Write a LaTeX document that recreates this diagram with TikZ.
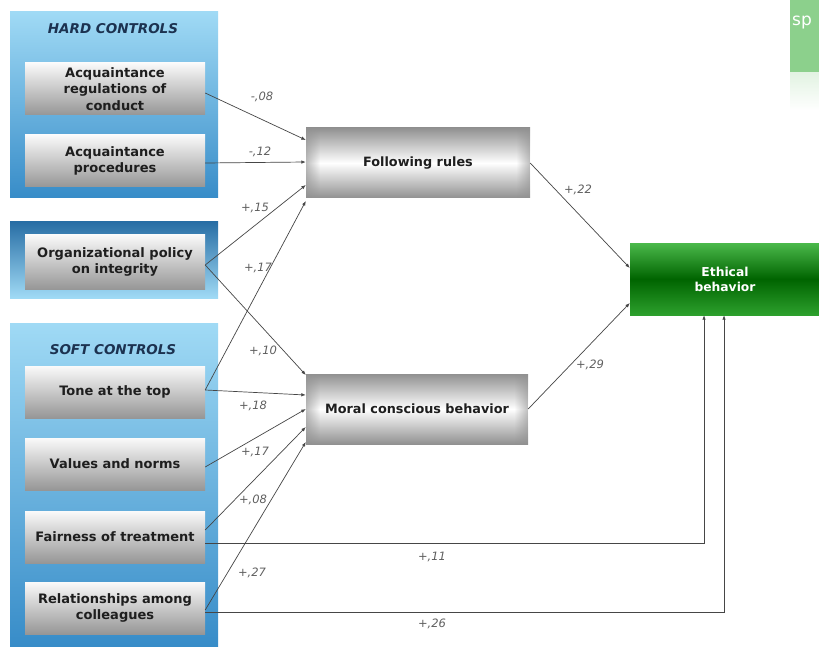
\documentclass[tikz,border=0pt]{standalone}
\usepackage{fontspec}
\setmainfont{DejaVu Sans}
\usetikzlibrary{arrows.meta,fadings}
\definecolor{panellight}{RGB}{160,218,245}
\definecolor{paneldark}{RGB}{55,140,200}
\definecolor{panelnavy}{RGB}{40,110,165}
\definecolor{titlenavy}{RGB}{28,50,80}
\definecolor{boxtop}{RGB}{250,250,250}
\definecolor{boxbot}{RGB}{150,150,150}
\definecolor{frgray}{RGB}{145,145,145}
\definecolor{egtop}{RGB}{75,185,75}
\definecolor{egmid}{RGB}{0,100,0}
\definecolor{egbot}{RGB}{45,160,45}
\definecolor{fraggreen}{RGB}{140,208,140}
\definecolor{conncol}{RGB}{70,70,70}
\definecolor{labcol}{RGB}{95,95,95}
\definecolor{txtcol}{RGB}{30,30,30}
\tikzset{
  panel/.style={top color=panellight, bottom color=paneldark, draw=none},
  ctrlbox/.style={rectangle, minimum width=180pt, minimum height=52pt, inner sep=0pt,
    top color=boxtop, bottom color=boxbot, draw=none, align=center,
    font=\fontsize{13}{16.5}\selectfont\bfseries, text=txtcol},
  medbox/.style={rectangle, minimum width=224pt, minimum height=70pt, inner sep=0pt,
    top color=frgray, bottom color=frgray, middle color=white, draw=none,
    font=\fontsize{12.8}{15}\selectfont\bfseries, text=txtcol},
  outbox/.style={rectangle, minimum width=190pt, minimum height=72pt, inner sep=0pt,
    top color=egtop, bottom color=egbot, middle color=egmid, draw=none, align=center,
    font=\fontsize{12.3}{15}\selectfont\bfseries, text=white},
  edgeband/.style={fill=frgray, fill opacity=0.6, draw=none},
  ptitle/.style={font=\fontsize{13.5}{15}\selectfont\bfseries\itshape, text=titlenavy},
  conn/.style={draw=conncol, line width=0.7pt, -{Latex[length=4.5pt,width=3.5pt]}},
  lab/.style={font=\fontsize{11.5}{13}\selectfont\itshape, text=labcol, inner sep=0pt}
}
\begin{document}
\begin{tikzpicture}[x=1pt,y=-1pt]
\useasboundingbox (0,0) rectangle (819,647);
\fill[white] (0,0) rectangle (819,647);
% fragment top right
\fill[fraggreen] (790,0) rectangle (819,72);
\path[fill=fraggreen, fill opacity=0.25, path fading=south] (790,72) rectangle (819,110);
\node[font=\fontsize{17}{17}\selectfont, text=white, anchor=north west, inner sep=0pt] (frag) at (792,16) {sp};
% panels
\path[panel] (10,12) rectangle (218,198);
\path[top color=panelnavy, bottom color=panellight] (10,222) rectangle (218,298);
\path[panel] (10,323) rectangle (218,647);
\node[ptitle] (hardt) at (113,29) {HARD CONTROLS};
\node[ptitle] (softt) at (113,350) {SOFT CONTROLS};
% control boxes
\node[ctrlbox] (ar) at (115,89) {Acquaintance\\regulations of\\conduct};
\node[ctrlbox] (ap) at (115,161) {Acquaintance\\procedures};
\node[ctrlbox, minimum height=55pt] (op) at (115,262) {Organizational policy\\on integrity};
\node[ctrlbox] (tt) at (115,392) {Tone at the top};
\node[ctrlbox] (vn) at (115,464) {Values and norms};
\node[ctrlbox] (ft) at (115,537) {Fairness of treatment};
\node[ctrlbox] (rc) at (115,608) {Relationships among\\colleagues};
% mediators and outcome
\node[medbox] (fr) at (418,163) {};
\node[medbox, minimum width=222pt] (mcb) at (417,409) {};
\foreach \b in {fr,mcb}{
  \path[edgeband, path fading=east] (\b.north west) rectangle ([xshift=14pt]\b.south west);
  \path[edgeband, path fading=west] ([xshift=-14pt]\b.north east) rectangle (\b.south east);
}
\node[font=\fontsize{12.8}{15}\selectfont\bfseries, text=txtcol] (frt) at (fr.center) {Following rules};
\node[font=\fontsize{12.8}{15}\selectfont\bfseries, text=txtcol] (mcbt) at (mcb.center) {Moral conscious behavior};
\node[outbox] (eb) at (725,279) {Ethical\\behavior};
% connectors to following rules
\draw[conn] ([yshift=-4pt]ar.east) -- ([yshift=23pt]fr.west);
\draw[conn] ([yshift=-2pt]ap.east) -- ([yshift=1pt]fr.west);
\draw[conn] ([yshift=-3pt]op.east) -- ([yshift=-22pt]fr.west);
\draw[conn] ([yshift=2pt]tt.east) -- ([yshift=-38pt]fr.west);
% connectors to moral conscious behavior
\draw[conn] ([yshift=-3pt]op.east) -- ([yshift=34pt]mcb.west);
\draw[conn] ([yshift=2pt]tt.east) -- ([yshift=14pt]mcb.west);
\draw[conn] ([yshift=-3pt]vn.east) -- ([yshift=0pt]mcb.west);
\draw[conn] ([yshift=7pt]ft.east) -- ([yshift=-18pt]mcb.west);
\draw[conn] ([yshift=-2pt]rc.east) -- ([yshift=-33pt]mcb.west);
% to ethical behavior
\draw[conn] (fr.east) -- ([yshift=11pt]eb.west);
\draw[conn] (mcb.east) -- ([yshift=-24pt]eb.west);
\draw[conn] ([yshift=-6pt]ft.east) -| ([xshift=-21pt]eb.south);
\draw[conn] ([yshift=-4pt]rc.east) -| ([xshift=-1pt]eb.south);
% labels
\node[lab] (l1) at (262,97) {-,08};
\node[lab] (l2) at (260,152) {-,12};
\node[lab] (l3) at (255,208) {+,15};
\node[lab] (l4) at (258,268) {+,17};
\node[lab] (l5) at (263,351) {+,10};
\node[lab] (l6) at (253,406) {+,18};
\node[lab] (l7) at (255,452) {+,17};
\node[lab] (l8) at (253,500) {+,08};
\node[lab] (l9) at (252,573) {+,27};
\node[lab] (l10) at (578,190) {+,22};
\node[lab] (l11) at (590,365) {+,29};
\node[lab] (l12) at (432,557) {+,11};
\node[lab] (l13) at (432,624) {+,26};
\end{tikzpicture}
\end{document}
